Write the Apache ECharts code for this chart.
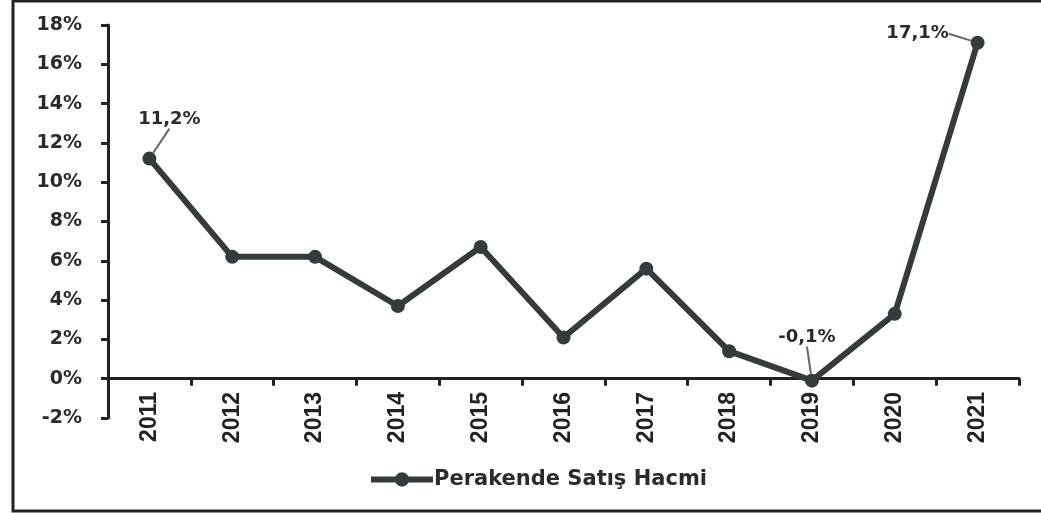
<!DOCTYPE html>
<html>
<head>
<meta charset="utf-8">
<script src="https://cdn.jsdelivr.net/npm/echarts@6/dist/echarts.min.js"></script>
<style>
  html, body { margin: 0; padding: 0; background: #fff; }
  #chart { width: 1041px; height: 513px; }
</style>
</head>
<body>
<div id="chart"></div>
<script>
  // Chart data
  var years = ['2011', '2012', '2013', '2014', '2015', '2016', '2017', '2018', '2019', '2020', '2021'];
  var salesVolume = [11.2, 6.2, 6.2, 3.7, 6.7, 2.1, 5.6, 1.4, -0.1, 3.3, 17.1];
  var labelledIdx = [0, 8, 10];
  var seriesName = 'Perakende Satış Hacmi';

  var chart = echarts.init(document.getElementById('chart'));

  var labelShift = {
    0: { dx: 20, dy: -19 },
    8: { dx: -5, dy: -23 },
    10: { dx: -60, dy: 11 }
  };

  // only a few points carry a value label
  var seriesData = salesVolume.map(function (v, i) {
    var on = labelledIdx.indexOf(i) >= 0;
    return {
      value: v,
      label: { show: on },
      labelLine: { show: on }
    };
  });

  chart.setOption({
    backgroundColor: '#fff',
    animation: false,
    graphic: [{
      type: 'polyline',
      shape: { points: [[1041, 1], [13, 1], [13, 511], [1041, 511]] },
      style: { fill: 'none', stroke: '#222', lineWidth: 3 }
    }],
    grid: {
      left: 108,
      right: 22,
      top: 25,
      bottom: 95
    },
    legend: {
      bottom: 18,
      left: 363,
      itemWidth: 62,
      itemHeight: 18,
      itemGap: 0,
      data: [seriesName],
      lineStyle: { width: 6 },
      textStyle: {
        color: '#2b2b2b',
        fontFamily: 'DejaVu Sans',
        fontWeight: 'bold',
        fontSize: 21,
        padding: [0, 0, 0, -4]
      }
    },
    xAxis: {
      type: 'category',
      data: years,
      boundaryGap: true,
      axisLine: { onZero: true, lineStyle: { color: '#222', width: 3 } },
      axisTick: { show: true, length: 7, lineStyle: { color: '#222', width: 3 } },
      axisLabel: {
        rotate: 90,
        margin: -26,
        color: '#222',
        fontFamily: 'Liberation Sans Narrow, Liberation Sans',
        fontWeight: 'bold',
        fontSize: 23
      }
    },
    yAxis: {
      type: 'value',
      min: -2,
      max: 18,
      interval: 2,
      axisLine: { show: true, lineStyle: { color: '#222', width: 3 } },
      axisTick: { show: true, length: 7, lineStyle: { color: '#222', width: 3 } },
      splitLine: { show: false },
      axisLabel: {
        margin: 26,
        color: '#2b2b2b',
        fontFamily: 'DejaVu Sans',
        fontWeight: 'bold',
        fontSize: 19,
        formatter: '{value}%'
      }
    },
    series: [{
      name: seriesName,
      type: 'line',
      data: seriesData,
      symbol: 'circle',
      symbolSize: 14,
      lineStyle: { color: '#353a3c', width: 6 },
      itemStyle: { color: '#353a3c' },
      label: {
        position: 'top',
        distance: 4,
        color: '#2b2b2b',
        fontFamily: 'DejaVu Sans',
        fontWeight: 'bold',
        fontSize: 18,
        formatter: function (p) {
          return String(p.value).replace('.', ',') + '%';
        }
      },
      labelLine: {
        lineStyle: { color: '#666', width: 2 }
      },
      labelLayout: function (params) {
        var s = labelShift[params.dataIndex];
        return s ? { dx: s.dx, dy: s.dy } : {};
      }
    }]
  });

  window.addEventListener('resize', function () {
    chart.resize();
  });
</script>
</body>
</html>
